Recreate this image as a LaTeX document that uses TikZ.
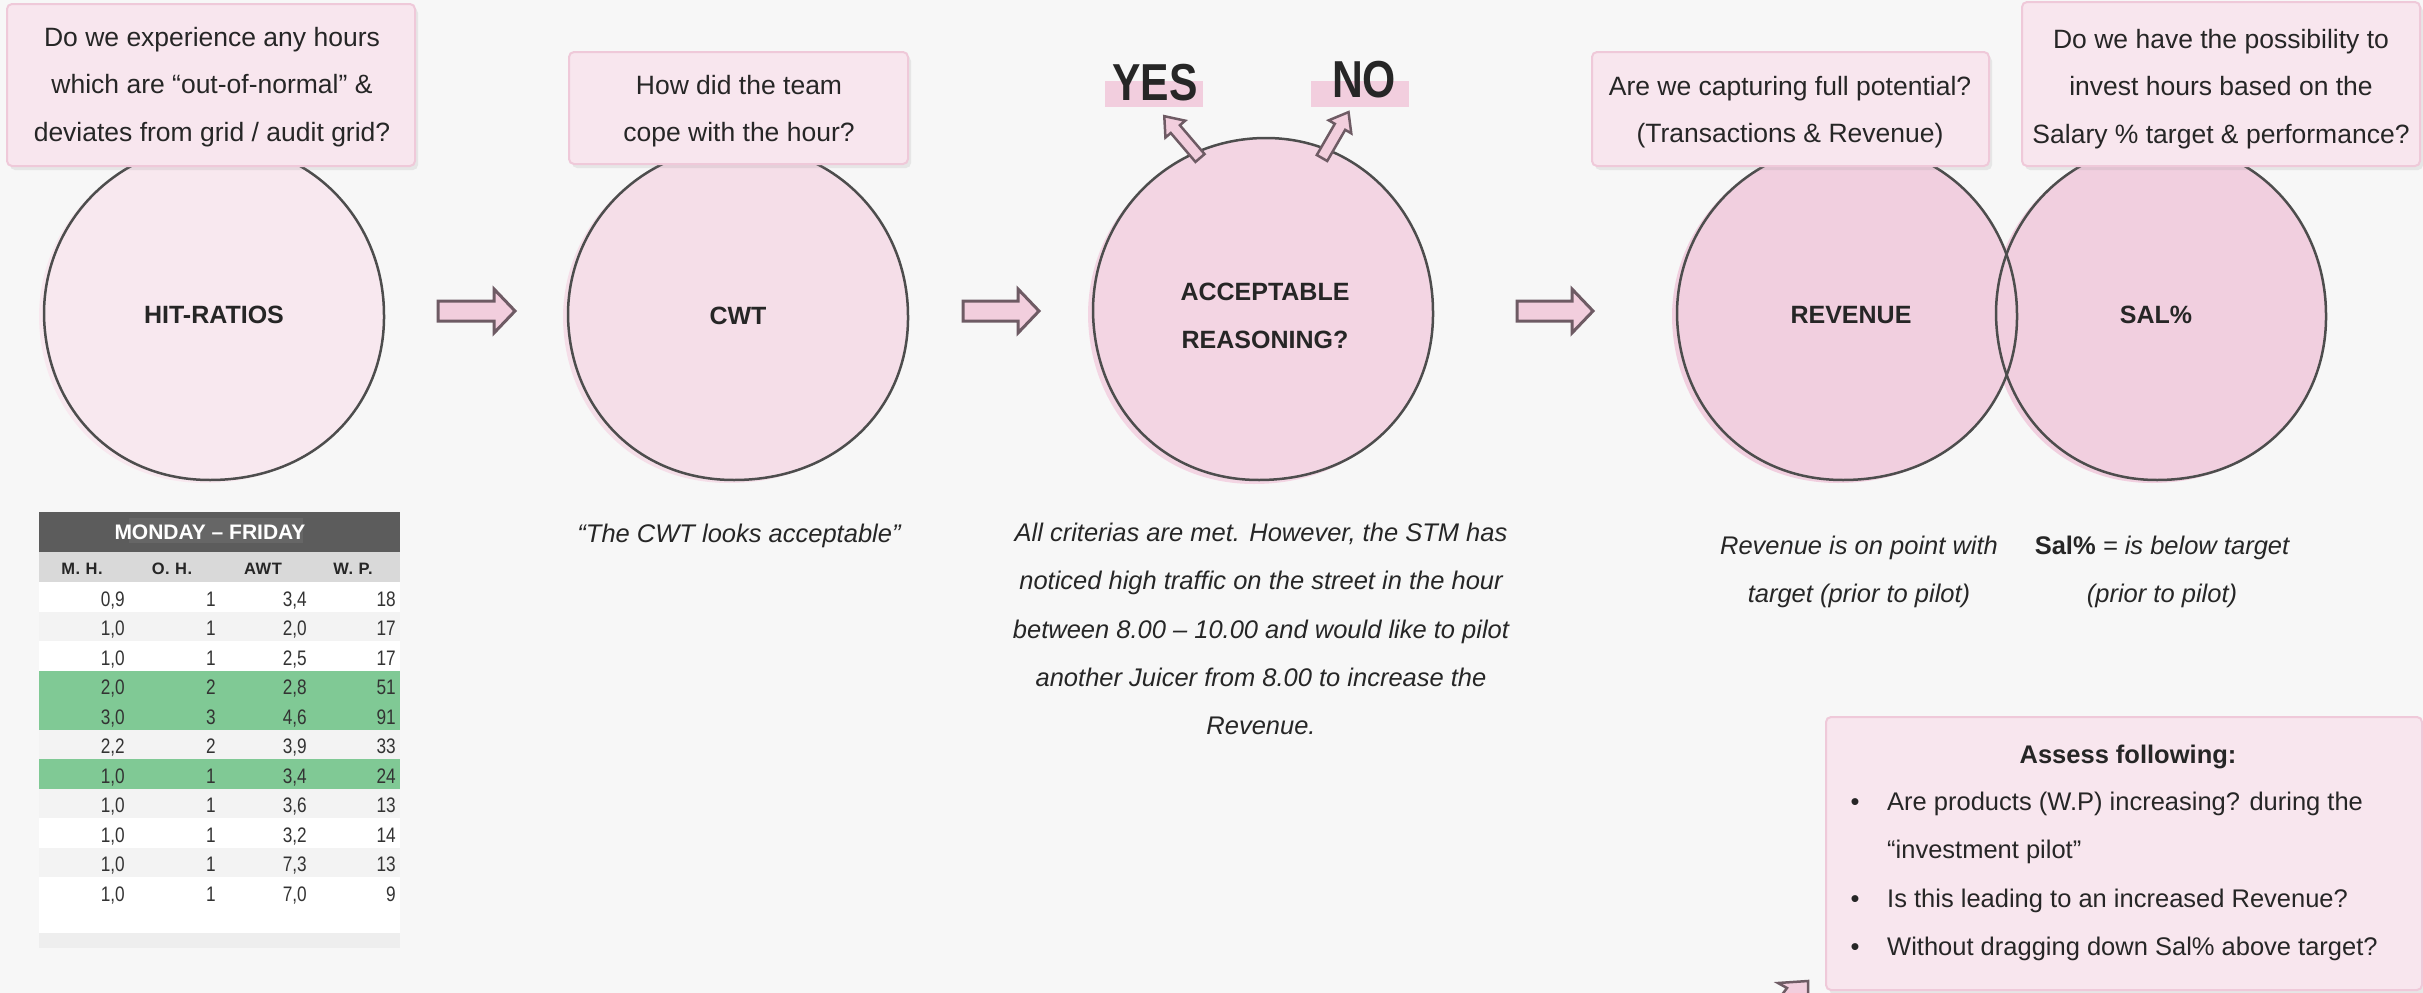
\documentclass[tikz,border=0pt]{standalone}
\usepackage{fontspec}
\setmainfont{Liberation Sans}
\newfontfamily\narrowfont[FakeStretch=0.82]{Liberation Sans}
\newfontfamily\tagfont[FakeStretch=0.82]{Liberation Sans}
\newfontfamily\spacedfont[LetterSpace=4]{Liberation Sans}
\usetikzlibrary{shadows}

\definecolor{bg}{HTML}{F7F7F7}
\definecolor{ink}{HTML}{262626}
\definecolor{numink}{HTML}{333333}
\definecolor{boxfill}{HTML}{F8E6EE}
\definecolor{boxedge}{HTML}{EFC9D9}
\definecolor{ringA}{HTML}{F8E8EF}
\definecolor{ringB}{HTML}{F5DEE8}
\definecolor{ringC}{HTML}{F3D5E3}
\definecolor{ringD}{HTML}{F1CFDF}
\definecolor{outline}{HTML}{4D4D4D}
\definecolor{arrowfill}{HTML}{F2CEDD}
\definecolor{arrowedge}{HTML}{6E5B64}
\definecolor{tagfill}{HTML}{F2CEDE}
\definecolor{hdrdark}{HTML}{5C5C5C}
\definecolor{hdrmid}{HTML}{666666}
\definecolor{hdrlight}{HTML}{D9D9D9}
\definecolor{rowalt}{HTML}{F3F3F3}
\definecolor{rowgreen}{HTML}{80C995}
\definecolor{rowend}{HTML}{EEEEEE}

% slightly irregular, hand-drawn looking ellipse: centre x, centre y, radius x, radius y
\newcommand{\blobpath}[4]{%
  ({#1+#3},{#2+3})
  .. controls ({#1+#3+1},{#2+0.56*#4}) and ({#1+0.56*#3+6},{#2+#4}) .. ({#1-4},{#2+#4})
  .. controls ({#1-0.58*#3-4},{#2+#4}) and ({#1-#3+1},{#2+0.56*#4}) .. ({#1-#3},{#2+2})
  .. controls ({#1-#3},{#2-0.55*#4}) and ({#1-0.55*#3},{#2-#4}) .. ({#1+3},{#2-#4})
  .. controls ({#1+0.56*#3+3},{#2-#4}) and ({#1+#3},{#2-0.54*#4}) .. ({#1+#3},{#2+3})
  -- cycle}

% block arrow: tail x, tail y, angle, length, shaft half width, head half width, head length, line width
\newcommand{\blockarrow}[8]{%
  \begin{scope}[shift={(#1,#2)}, rotate=#3]
    \filldraw[arrowshape, line width=#8] (0,-#5) -- ({#4-#7},-#5) -- ({#4-#7},-#6) -- (#4,0)
      -- ({#4-#7},#6) -- ({#4-#7},#5) -- (0,#5) -- cycle;
  \end{scope}}

% one table row: index, four values, row colour
\newcommand{\trow}[6]{%
  \fill[#6] (39,{582+29.5*#1}) rectangle (400,{582+29.5*(#1+1)});
  \node[num] (r#1a) at (125,{606+29.5*#1}) {#2};
  \node[num] (r#1b) at (216,{606+29.5*#1}) {#3};
  \node[num] (r#1c) at (307,{606+29.5*#1}) {#4};
  \node[num] (r#1d) at (396,{606+29.5*#1}) {#5};}

\begin{document}
\begin{tikzpicture}[x=1pt, y=-1pt,
  qbox/.style={draw=boxedge, fill=boxfill, line width=2pt, rounded corners=5pt,
    drop shadow={shadow xshift=3pt, shadow yshift=-4pt, opacity=0.14}, inner sep=0pt},
  qtext/.style={text=ink, align=center, inner sep=0pt, font=\fontsize{26.5}{47.5}\selectfont},
  ctext/.style={text=ink, anchor=base, inner sep=0pt, font=\bfseries\fontsize{25}{25}\selectfont},
  note/.style={text=ink, align=center, inner sep=0pt, font=\itshape\fontsize{25.5}{48.3}\selectfont},
  ltext/.style={text=ink, anchor=base west, inner sep=0pt, font=\fontsize{25.5}{25.5}\selectfont},
  ring/.style={draw=outline, line width=2.5pt},
  arrowshape/.style={fill=arrowfill, draw=arrowedge, line join=miter},
  num/.style={text=numink, anchor=base east, inner sep=0pt, font=\narrowfont\fontsize{21}{21}\selectfont},
  colhead/.style={text=ink, anchor=base, inner sep=0pt, font=\spacedfont\bfseries\fontsize{16.5}{16.5}\selectfont},
  tagtext/.style={text=ink, anchor=base, inner sep=0pt, font=\tagfont\bfseries\fontsize{52}{52}\selectfont},
]
\useasboundingbox (0,0) rectangle (2423,993);
\fill[bg] (0,0) rectangle (2423,993);

% ---- circles ----
\coordinate (hit) at (214,312);
\coordinate (cwt) at (738,313);
\coordinate (acc) at (1263,309);
\coordinate (rev) at (1847,312);
\coordinate (sal) at (2161,312);

\fill[ringA, shift={(-5,3)}] \blobpath{214}{312}{170}{168};
\filldraw[ring, fill=ringA] \blobpath{214}{312}{170}{168};

\fill[ringB, shift={(-5,3)}] \blobpath{738}{313}{170}{167};
\filldraw[ring, fill=ringB] \blobpath{738}{313}{170}{167};

\fill[ringC, shift={(-5,4)}] \blobpath{1263}{309}{170}{171};
\filldraw[ring, fill=ringC] \blobpath{1263}{309}{170}{171};

\fill[ringD, shift={(-5,3)}] \blobpath{2161}{312}{165}{168};
\fill[ringD, shift={(-5,3)}] \blobpath{1847}{312}{170}{168};
\fill[ringD] \blobpath{2161}{312}{165}{168};
\fill[ringD] \blobpath{1847}{312}{170}{168};
\draw[ring] \blobpath{2161}{312}{165}{168};
\draw[ring] \blobpath{1847}{312}{170}{168};

\node[ctext] (hitlabel) at (214,323) {HIT-RATIOS};
\node[ctext] (cwtlabel) at (738,324) {CWT};
\node[ctext] (acclabelA) at (1265,300) {ACCEPTABLE};
\node[ctext] (acclabelB) at (1265,348) {REASONING?};
\node[ctext] (revlabel) at (1851,323) {REVENUE};
\node[ctext] (sallabel) at (2156,323) {SAL\%};

% ---- question boxes ----
\node[qbox, minimum width=408pt, minimum height=162pt] (q1) at (211,85) {};
\node[qtext] (q1text) at (212,87) {Do we experience any hours\\which are “out-of-normal” \&\\deviates from grid / audit grid?};

\node[qbox, minimum width=339pt, minimum height=112pt] (q2) at (738.5,108) {};
\node[qtext] (q2text) at (739,111) {How did the team\\cope with the hour?};

\node[qbox, minimum width=397pt, minimum height=114pt] (q4) at (1790.5,109) {};
\node[qtext] (q4text) at (1790,112) {Are we capturing full potential?\\(Transactions \& Revenue)};

\node[qbox, minimum width=398pt, minimum height=164pt] (q5) at (2221,84) {};
\node[qtext] (q5text) at (2221,89) {Do we have the possibility to\\invest hours based on the\\Salary \% target \& performance?};

% ---- flow arrows ----
\coordinate (arrowA) at (438,311);
\coordinate (arrowB) at (963,311);
\coordinate (arrowC) at (1517,311);
\blockarrow{438}{311}{0}{77}{10}{22}{21}{3pt}
\blockarrow{963}{311}{0}{76}{10}{22}{21}{3pt}
\blockarrow{1517}{311}{0}{76}{10}{22}{21}{3pt}

% ---- yes / no ----
\fill[tagfill] (1105,81) rectangle (1203,107);
\fill[tagfill] (1311,81) rectangle (1409,107);
\node[tagtext] (yes) at (1155,100) {YES};
\node[tagtext] (no) at (1364,97) {NO};
\blockarrow{1200}{158}{130.5}{55}{6}{13}{17}{2.5pt}
\blockarrow{1322}{158}{60}{53}{6}{13}{17}{2.5pt}

% ---- notes ----
\node[note, anchor=base] (cwtnote) at (739,542) {“The CWT looks acceptable”};
\node[note] (accnote) at (1261,629) {All criterias are met. However, the STM has\\noticed high traffic on the street in the hour\\between 8.00 – 10.00 and would like to pilot\\another Juicer from 8.00 to increase the\\Revenue.};
\node[note] (revnote) at (1859,572) {Revenue is on point with\\target (prior to pilot)};
\node[note] (salnote) at (2162,572) {{\upshape\bfseries Sal\%} = is below target\\(prior to pilot)};

% ---- assessment box ----
\node[qbox, minimum width=596pt, minimum height=273pt] (assess) at (2124,853.5) {};
\node[text=ink, anchor=base, inner sep=0pt, font=\bfseries\fontsize{25.5}{25.5}\selectfont] (assesstitle) at (2128,763) {Assess following:};
\node[ltext, anchor=base] (b1) at (1855,810) {•};
\node[ltext, anchor=base] (b2) at (1855,907) {•};
\node[ltext, anchor=base] (b3) at (1855,955) {•};
\node[ltext] (l1) at (1887,810) {Are products (W.P) increasing? during the};
\node[ltext] (l2) at (1887,858) {“investment pilot”};
\node[ltext] (l3) at (1887,907) {Is this leading to an increased Revenue?};
\node[ltext] (l4) at (1887,955) {Without dragging down Sal\% above target?};

% arrow entering from below the page
\coordinate (tailarrow) at (1793,987);
\filldraw[arrowshape, line width=2.5pt] (1778,983) -- (1808,981) -- (1808,996) -- (1781,996) -- (1787,988) -- cycle;

% ---- table ----
\fill[hdrdark] (39,512) rectangle (400,552);
\fill[hdrmid] (129,518) rectangle (303,543);
\node[text=white, anchor=base, inner sep=0pt, font=\bfseries\fontsize{21}{21}\selectfont] (tabtitle) at (210,539) {MONDAY – FRIDAY};
\fill[hdrlight] (39,552) rectangle (400,582);
\node[colhead] (hMH) at (82,574) {M. H.};
\node[colhead] (hOH) at (172,574) {O. H.};
\node[colhead] (hAWT) at (263,574) {AWT};
\node[colhead] (hWP) at (353,574) {W. P.};
\trow{0}{0,9}{1}{3,4}{18}{white}
\trow{1}{1,0}{1}{2,0}{17}{rowalt}
\trow{2}{1,0}{1}{2,5}{17}{white}
\trow{3}{2,0}{2}{2,8}{51}{rowgreen}
\trow{4}{3,0}{3}{4,6}{91}{rowgreen}
\trow{5}{2,2}{2}{3,9}{33}{rowalt}
\trow{6}{1,0}{1}{3,4}{24}{rowgreen}
\trow{7}{1,0}{1}{3,6}{13}{rowalt}
\trow{8}{1,0}{1}{3,2}{14}{white}
\trow{9}{1,0}{1}{7,3}{13}{rowalt}
\trow{10}{1,0}{1}{7,0}{9}{white}
\fill[white] (39,906.5) rectangle (400,933);
\fill[rowend] (39,933) rectangle (400,948);
\end{tikzpicture}
\end{document}
